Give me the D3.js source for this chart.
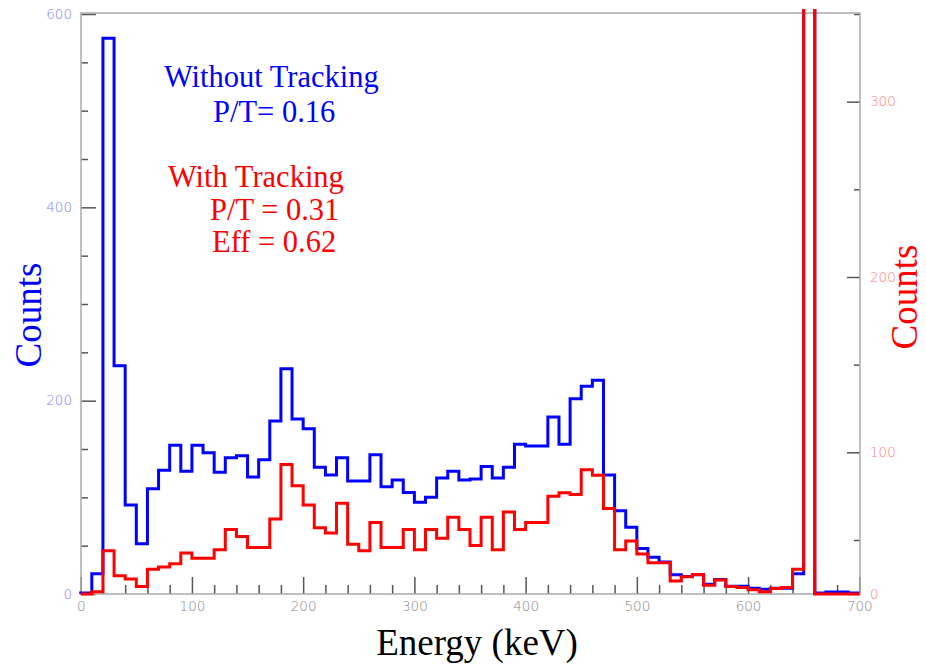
<!DOCTYPE html>
<html>
<head>
<meta charset="utf-8">
<script src="https://cdn.jsdelivr.net/npm/d3@7"></script>
<style>
  body { margin: 0; background: #fff; }
  .tick line { stroke: #555; stroke-width: 1.5; }
  .tick text { font-family: 'DejaVu Sans', sans-serif; font-size: 13.5px; font-weight: 300; }
</style>
</head>
<body>
<div id="chart"></div>
<script>
// Energy spectrum, 10 keV bins (start of each bin)
let binStarts = d3.range(0, 700, 10)

// Counts without tracking (left axis)
let withoutTracking = [
  1, 21, 575, 236, 92, 52, 109, 128, 154, 127,
  154, 146, 126, 141, 143, 121, 139, 179, 233, 181,
  171, 131, 123, 141, 117, 117, 144, 111, 118, 105,
  95, 100, 120, 127, 118, 119, 132, 120, 131, 155,
  153, 153, 183, 155, 202, 215, 221, 123, 86, 69,
  47, 38, 33, 20, 18, 20, 10, 15, 8, 8,
  6, 5, 6, 6, 21, 900, 1, 2, 2, 1
]

// Counts with tracking (right axis)
let withTracking = [
  0, 2, 40, 17, 14, 7, 23, 25, 28, 38,
  33, 33, 41, 56, 52, 43, 43, 62, 93, 81,
  70, 57, 54, 71, 46, 40, 60, 43, 43, 56,
  41, 56, 51, 63, 56, 45, 63, 41, 66, 56,
  60, 60, 75, 77, 76, 90, 87, 68, 41, 49,
  37, 29, 29, 12, 16, 18, 8, 13, 7, 6,
  4, 2, 5, 6, 23, 500, 0, 0, 0, 0
]

let xTicks = [0, 100, 200, 300, 400, 500, 600, 700]
let leftTicks = [0, 200, 400, 600]
let rightTicks = [0, 100, 200, 300]

let notes = [
  { text: 'Without Tracking', color: '#0000ff' },
  { text: 'P/T= 0.16', color: '#0000ff' },
  { text: 'With Tracking', color: '#ff0000' },
  { text: 'P/T = 0.31', color: '#ff0000' },
  { text: 'Eff = 0.62', color: '#ff0000' }
]

let width = 926, height = 665
let plot = { left: 81, right: 860, top: 13, bottom: 594 }

let svg = d3.select('#chart').append('svg')
    .attr('width', width)
    .attr('height', height)

// Scales
let xScale = d3.scaleLinear().domain([0, 700]).range([80.7, 859.3])
let yLeft = d3.scaleLinear().domain([0, 600]).range([plot.bottom, 14])
// right axis is squeezed below 50 in the original figure
let yRight = d3.scaleLinear().domain([0, 50, 350]).range([plot.bottom, 540, 14])

// Clip so the full-energy peak runs off the top
svg.append('clipPath').attr('id', 'clip')
  .append('rect')
  .attr('x', plot.left - 2).attr('y', 9)
  .attr('width', plot.right - plot.left + 4)
  .attr('height', plot.bottom - 7)

// Axes
let xAxis = d3.axisBottom(xScale).tickValues(xTicks)
    .tickSizeInner(-17).tickSizeOuter(0).tickPadding(7)
let xMinor = d3.axisBottom(xScale).tickValues(d3.range(0, 701, 20).filter(d => d % 100))
    .tickSizeInner(-9).tickSizeOuter(0).tickFormat('')

svg.append('g')
  .attr('transform', 'translate(0,' + plot.bottom + ')')
  .call(xAxis)
  .call(g => g.selectAll('text').attr('fill', '#888'))
svg.append('g')
  .attr('transform', 'translate(0,' + plot.bottom + ')')
  .call(xMinor)

let leftAxis = d3.axisLeft(yLeft).tickValues(leftTicks)
    .tickSizeInner(-15).tickSizeOuter(0).tickPadding(9)
let leftMinor = d3.axisLeft(yLeft).tickValues(d3.range(50, 600, 50).filter(d => d % 200))
    .tickSizeInner(-7).tickSizeOuter(0).tickFormat('')

svg.append('g')
  .attr('transform', 'translate(' + plot.left + ',0)')
  .call(leftAxis)
  .call(g => g.selectAll('text').attr('fill', '#8080ff'))
svg.append('g')
  .attr('transform', 'translate(' + plot.left + ',0)')
  .call(leftMinor)

let rightAxis = d3.axisRight(yRight).tickValues(rightTicks)
    .tickSizeInner(-13).tickSizeOuter(0).tickPadding(10)
let rightMinor = d3.axisRight(yRight).tickValues([50, 150, 250, 350])
    .tickSizeInner(-6).tickSizeOuter(0).tickFormat('')

svg.append('g')
  .attr('transform', 'translate(' + plot.right + ',0)')
  .call(rightAxis)
  .call(g => g.selectAll('text').attr('fill', '#ff8080'))
svg.append('g')
  .attr('transform', 'translate(' + plot.right + ',0)')
  .call(rightMinor)

svg.selectAll('.domain').remove()

// Frame
svg.append('path')
  .attr('d', 'M' + plot.left + ',' + plot.bottom + 'V' + plot.top + 'H' + plot.right + 'V' + plot.bottom + 'Z')
  .attr('fill', 'none')
  .attr('stroke', '#aaa')
  .attr('stroke-width', 1.5)

// Histograms as step lines
let stepLine = (values, yScale) => {
  let pts = [[0, 0]]
  values.forEach((v, i) => pts.push([binStarts[i], v]))
  pts.push([700, values[values.length - 1]])
  return d3.line()
    .x(d => xScale(d[0]))
    .y(d => yScale(d[1]))
    .curve(d3.curveStepAfter)(pts)
}

let hist = svg.append('g').attr('clip-path', 'url(#clip)')

hist.append('path')
  .attr('d', stepLine(withoutTracking, yLeft))
  .attr('fill', 'none')
  .attr('stroke', '#0000ff')
  .attr('stroke-width', 3)

hist.append('path')
  .attr('d', stepLine(withTracking, yRight))
  .attr('fill', 'none')
  .attr('stroke', '#ff0000')
  .attr('stroke-width', 3)

// Annotations
let serif = "'Liberation Serif', 'Times New Roman', serif"
let notePos = [[164, 87], [213, 122], [168, 187], [210, 220], [212, 252]]
svg.selectAll('.note')
  .data(notes)
  .enter().append('text')
  .attr('class', 'note')
  .attr('x', (d, i) => notePos[i][0])
  .attr('y', (d, i) => notePos[i][1])
  .attr('fill', d => d.color)
  .style('font-family', serif)
  .style('font-size', '30.5px')
  .text(d => d.text)

// Axis titles
svg.append('text')
  .attr('transform', 'translate(41,315) rotate(-90)')
  .attr('text-anchor', 'middle')
  .attr('fill', '#0000ff')
  .style('font-family', serif)
  .style('font-size', '37px')
  .text('Counts')

svg.append('text')
  .attr('transform', 'translate(917,297) rotate(-90)')
  .attr('text-anchor', 'middle')
  .attr('fill', '#ff0000')
  .style('font-family', serif)
  .style('font-size', '37px')
  .text('Counts')

svg.append('text')
  .attr('x', 477)
  .attr('y', 655)
  .attr('text-anchor', 'middle')
  .attr('fill', '#000')
  .style('font-family', serif)
  .style('font-size', '37px')
  .text('Energy (keV)')
</script>
</body>
</html>
